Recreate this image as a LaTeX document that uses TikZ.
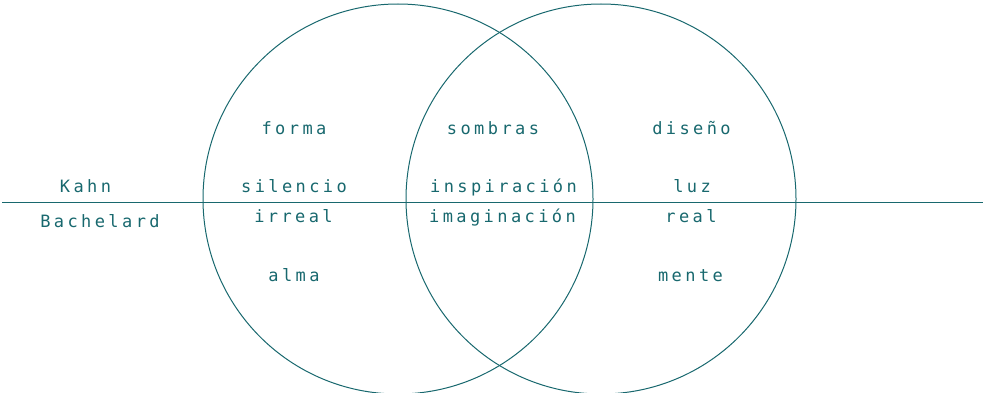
\documentclass[tikz,border=0pt]{standalone}
\usepackage{fontspec}
\usepackage{xcolor}
\usepackage{tikz}
\newfontfamily\wordfont[LetterSpace=20]{DejaVu Sans Mono}
\definecolor{teal}{RGB}{24,104,110}
\tikzset{
  word/.style={anchor=base, inner sep=0pt, text=teal, font=\wordfont\fontsize{17}{19}\selectfont}
}

\begin{document}
\begin{tikzpicture}[x=1pt, y=1pt]
  \useasboundingbox (0,0) rectangle (984,392);

  % circles
  \draw[teal, line width=1pt] (398,193) circle (195);
  \draw[teal, line width=1pt] (601,193) circle (195);

  % divider
  \coordinate (west) at (2,190);
  \coordinate (east) at (983,190);
  \draw[teal, line width=1pt] (west) -- (east);

  % authors
  \node[word] (kahn) at (85.5,200) {Kahn};
  \node[word] (bachelard) at (100,165) {Bachelard};

  % left circle
  \node[word] (forma) at (294,258) {forma};
  \node[word] (silencio) at (294,200) {silencio};
  \node[word] (irreal) at (293.5,170) {irreal};
  \node[word] (alma) at (294,110.5) {alma};

  % overlap
  \node[word] (sombras) at (493,258) {sombras};
  \node[word] (inspiracion) at (503.5,200) {inspiración};
  \node[word] (imaginacion) at (502.5,170) {imaginación};

  % right circle
  \node[word] (diseno) at (691.5,258) {diseño};
  \node[word] (luz) at (692,200) {luz};
  \node[word] (real) at (691,170) {real};
  \node[word] (mente) at (690.5,110.5) {mente};
\end{tikzpicture}
\end{document}
